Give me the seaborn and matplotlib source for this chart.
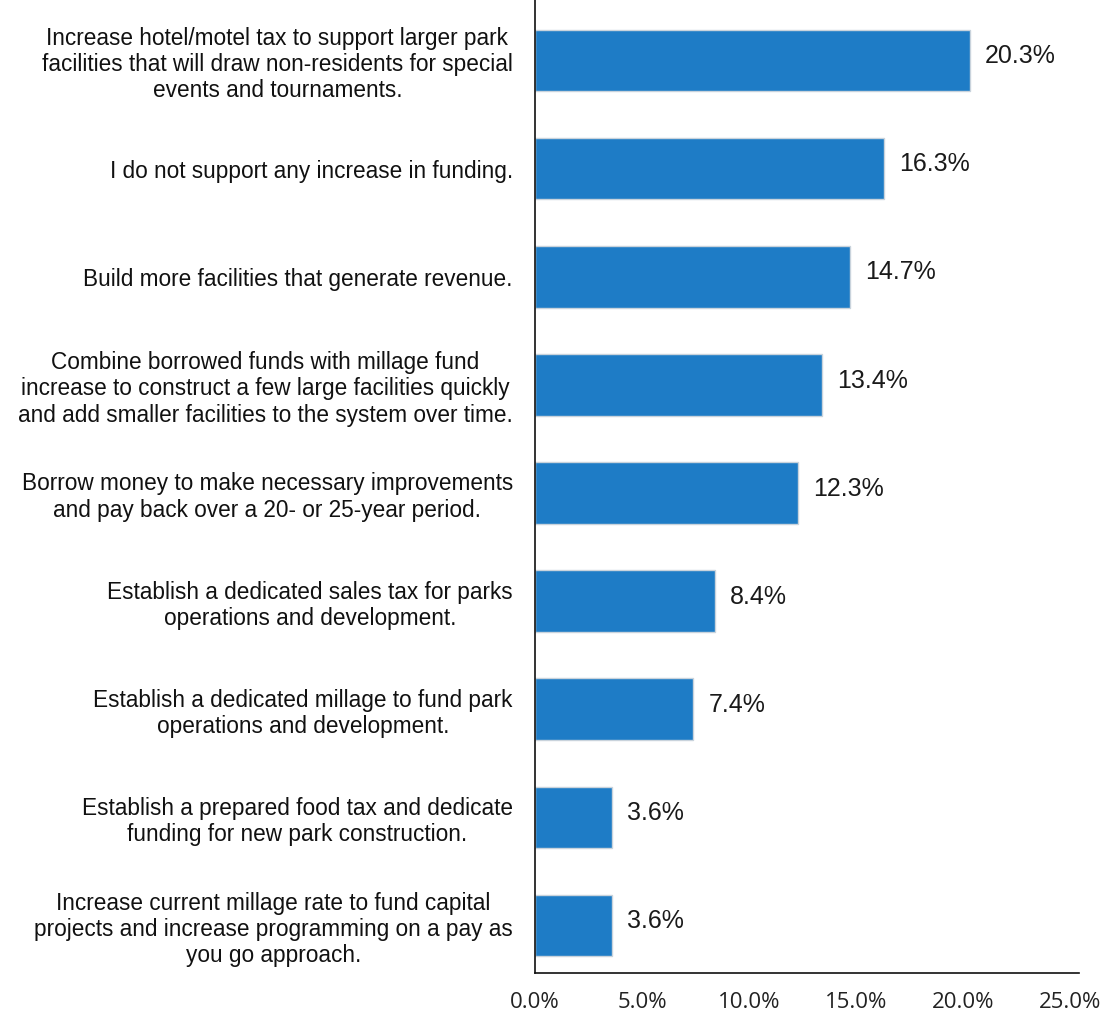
import matplotlib
matplotlib.use("Agg")
import matplotlib.pyplot as plt
import seaborn as sns
import pandas as pd

categories = [
    "Increase hotel/motel tax to support larger park\nfacilities that will draw non-residents for special\nevents and tournaments.",
    "I do not support any increase in funding.",
    "Build more facilities that generate revenue.",
    "Combine borrowed funds with millage fund\nincrease to construct a few large facilities quickly\nand add smaller facilities to the system over time.",
    "Borrow money to make necessary improvements\nand pay back over a 20- or 25-year period.",
    "Establish a dedicated sales tax for parks\noperations and development.",
    "Establish a dedicated millage to fund park\noperations and development.",
    "Establish a prepared food tax and dedicate\nfunding for new park construction.",
    "Increase current millage rate to fund capital\nprojects and increase programming on a pay as\nyou go approach.",
]
values = [20.3, 16.3, 14.7, 13.4, 12.3, 8.4, 7.4, 3.6, 3.6]
xticks = [0, 5, 10, 15, 20, 25]
xtick_labels = ["0.0%", "5.0%", "10.0%", "15.0%", "20.0%", "25.0%"]

sns.set_theme(style="white")
plt.rcParams['font.family'] = ['Liberation Sans', 'DejaVu Sans']

df = pd.DataFrame({"cat": categories, "val": values})

fig = plt.figure(figsize=(11.18, 10.21), dpi=100)
ax = fig.add_axes([535/1118, 1 - 973/1021, 544/1118, 973/1021])

sns.barplot(data=df, x="val", y="cat", orient="h", color="#1e7cc6",
            saturation=1, width=0.57, edgecolor="#c9d3dc", linewidth=1.0, ax=ax)

ax.set_xlim(0, 25.4)
ax.set_ylim(8.44, -0.56)
ax.set_xticks(xticks)
ax.set_xticklabels(xtick_labels, fontsize=16, family=['Open Sans', 'DejaVu Sans'], color="#222222")
ax.set_yticks(range(len(categories)))
ax.set_yticklabels(categories, fontsize=16.3, multialignment="center",
                   linespacing=1.18, color="#111111")
ax.tick_params(axis="x", length=0, pad=14)
ax.tick_params(axis="y", length=0, pad=16)
ax.set_xlabel("")
ax.set_ylabel("")

for s in ["top", "right"]:
    ax.spines[s].set_visible(False)
for s in ["left", "bottom"]:
    ax.spines[s].set_color("#111111")
    ax.spines[s].set_linewidth(1.2)

for i, v in enumerate(values):
    ax.text(v + 0.7, i - 0.04, f"{v:.1f}%", va="center", ha="left", fontsize=18, color="#1a1a1a")

fig.savefig("out.png", dpi=100, facecolor="white")
